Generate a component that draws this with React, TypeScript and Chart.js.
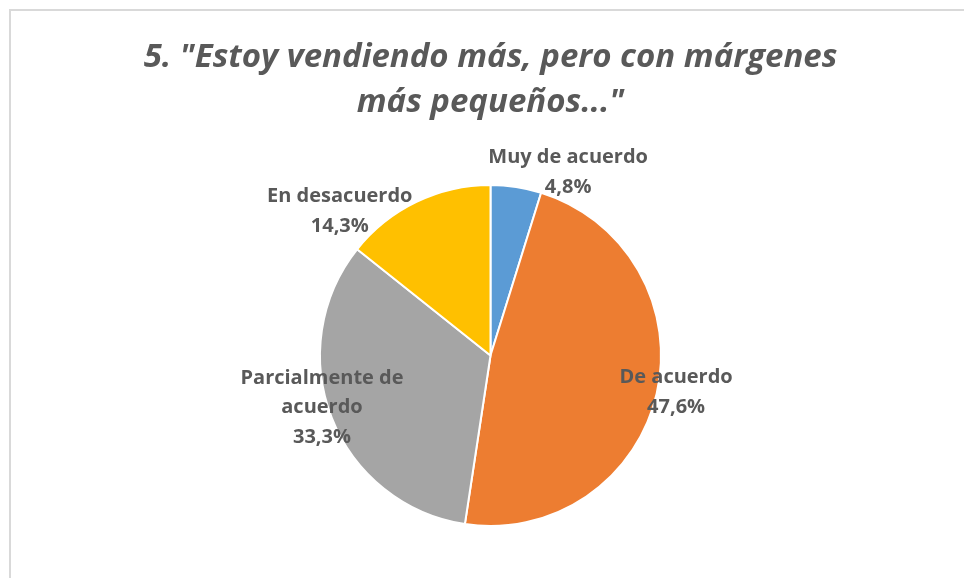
import React, { useEffect, useRef } from "react";
import { Chart, registerables } from "chart.js";

Chart.register(...registerables);

const categories = ["Muy de acuerdo", "De acuerdo", "Parcialmente de acuerdo", "En desacuerdo"];
const values = [4.8, 47.6, 33.3, 14.3];
const titleLines = ['5. "Estoy vendiendo más, pero con márgenes', 'más pequeños..."'];

const colors = ["#5B9BD5", "#ED7D31", "#A5A5A5", "#FFC000"];
// label placement relative to each slice: angle tweak (deg) from mid-angle, radius factor
const labelAngleTweak = [14.3, -1.7, 4.3, -20.5];
const labelRadiusFactor = [1.168, 1.11, 1.034, 1.224];

const TEXT_COLOR = "#595959";
const FONT_FAMILY = "'Open Sans', 'DejaVu Sans', sans-serif";
const LABEL_FONT = `bold 20px ${FONT_FAMILY}`;
const LABEL_LINE = 29.5;
const LABEL_WRAP = 200;

function wrap(ctx: CanvasRenderingContext2D, text: string, maxW: number): string[] {
  const words = text.split(" ");
  const lines: string[] = [];
  let cur = "";
  for (const w of words) {
    const t = cur ? cur + " " + w : w;
    if (ctx.measureText(t).width > maxW && cur) {
      lines.push(cur);
      cur = w;
    } else cur = t;
  }
  if (cur) lines.push(cur);
  return lines;
}

const labelPlugin = {
  id: "sliceLabels",
  afterDatasetsDraw(chart: any) {
    const ctx: CanvasRenderingContext2D = chart.ctx;
    const meta = chart.getDatasetMeta(0);
    ctx.save();
    ctx.font = LABEL_FONT;
    ctx.fillStyle = TEXT_COLOR;
    ctx.textAlign = "center";
    ctx.textBaseline = "middle";
    meta.data.forEach((arc: any, i: number) => {
      const p = arc.getProps(["x", "y", "startAngle", "endAngle", "outerRadius"], true);
      const mid = (p.startAngle + p.endAngle) / 2 + (labelAngleTweak[i] * Math.PI) / 180;
      const r = p.outerRadius * labelRadiusFactor[i];
      const cx = p.x + Math.cos(mid) * r;
      const cy = p.y + Math.sin(mid) * r;
      const pct = values[i].toFixed(1).replace(".", ",") + "%";
      const lines = [...wrap(ctx, categories[i], LABEL_WRAP), pct];
      lines.forEach((ln, k) => {
        ctx.fillText(ln, cx, cy + (k - (lines.length - 1) / 2) * LABEL_LINE);
      });
    });
    ctx.restore();
  },
};

export default function App() {
  const ref = useRef<HTMLCanvasElement | null>(null);
  useEffect(() => {
    document.body.style.margin = "0";
    const chart = new Chart(ref.current!, {
      type: "pie",
      data: {
        labels: categories,
        datasets: [
          {
            data: values,
            backgroundColor: colors,
            borderColor: "#ffffff",
            borderWidth: 2,
          },
        ],
      },
      options: {
        responsive: false,
        animation: false,
        layout: { padding: { top: 0, bottom: 51, left: 17, right: 0 } },
        plugins: {
          legend: { display: false },
          tooltip: { enabled: false },
          title: {
            display: true,
            text: titleLines,
            color: TEXT_COLOR,
            font: { family: FONT_FAMILY, size: 33, weight: "bold", style: "italic", lineHeight: 45 / 33 },
            padding: { top: 35, bottom: 59 },
          },
        },
      },
      plugins: [labelPlugin],
    });
    return () => chart.destroy();
  }, []);
  return (
    <div style={{ position: "fixed", left: 0, top: 0, width: 964, height: 578, background: "#fff", overflow: "hidden" }}>
      <div
        style={{
          position: "absolute",
          left: 9,
          top: 9,
          width: 1000,
          height: 600,
          border: "2px solid #d9d9d9",
          boxSizing: "border-box",
        }}
      />
      <canvas ref={ref} width={964} height={578} style={{ position: "absolute", left: 0, top: 0, display: "block" }} />
    </div>
  );
}
